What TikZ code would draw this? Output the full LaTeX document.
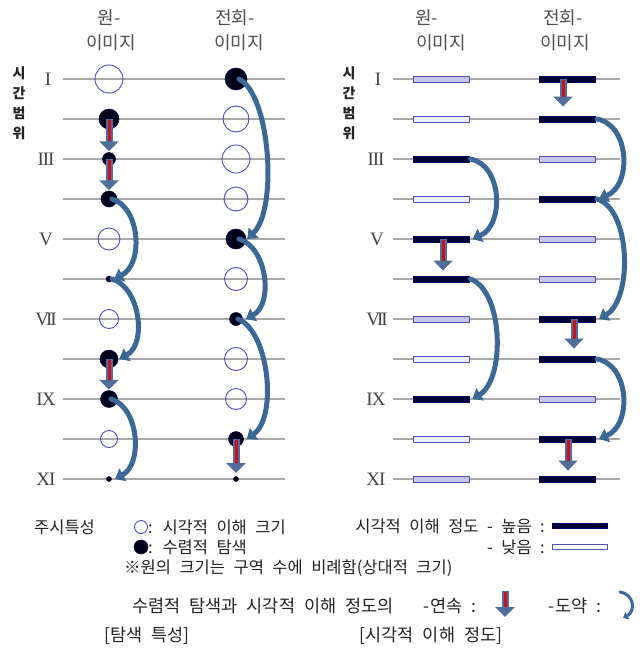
\documentclass[tikz,border=0pt]{standalone}
\usepackage{fontspec}
\setmainfont{Noto Sans CJK KR}[WordSpace=2.3]
\newfontfamily\romfont{Liberation Serif}
\usetikzlibrary{arrows.meta,calc}
\definecolor{gridc}{HTML}{A9A9A9}
\definecolor{ocirc}{HTML}{4B4BC4}
\definecolor{fcirc}{HTML}{00001A}
\definecolor{jumpc}{HTML}{3C6896}
\definecolor{arrb}{HTML}{4F6E99}
\definecolor{arrr}{HTML}{CC1020}
\definecolor{barD}{HTML}{000033}
\definecolor{barB}{HTML}{5050B8}
\definecolor{barL}{HTML}{C6C6EA}
\definecolor{barW}{HTML}{EDEDFA}
\definecolor{txtc}{HTML}{222222}
\definecolor{hdrc}{HTML}{505050}
\newcommand\contar[2]{%
  \draw[cbg] #1 -- #2;
  \draw[cfg] #1 -- #2;}
\newcommand\jumpar[6]{%
  \draw[jump] #1 .. controls ($#1+(#2,#3)$) and ($#4+(#5,#6)$) .. #4;}
\begin{document}
\begin{tikzpicture}[x=1pt,y=-1pt,
  gridline/.style={draw=gridc,line width=1.3pt},
  oc/.style={circle,draw=ocirc,line width=0.9pt,inner sep=0pt},
  fc/.style={circle,fill=fcirc,draw=fcirc!80!blue,line width=0.5pt,inner sep=0pt},
  barbase/.style={rectangle,minimum width=56pt,minimum height=6pt,inner sep=0pt,line width=0.9pt},
  dbar/.style={barbase,fill=barD,draw=barD!70!blue},
  lbar/.style={barbase,fill=barL,draw=barB},
  wbar/.style={barbase,fill=barW,draw=barB},
  cbg/.style={draw=arrb,line width=7pt,-{Triangle[width=19pt,length=10pt]}},
  cfg/.style={draw=arrr,line width=3pt,shorten >=10pt,shorten <=1pt},
  jump/.style={draw=jumpc,line width=5pt,line cap=round,-{Triangle[width=14pt,length=9pt]}},
  rom/.style={font=\romfont\fontsize{19}{20}\selectfont,text=txtc!85,inner sep=0pt},
  hdr/.style={font=\fontsize{18}{20}\selectfont,text=hdrc,inner sep=0pt},
  vlab/.style={font=\bfseries\fontsize{14}{20}\selectfont,text=txtc,align=center,inner sep=0pt},
  lg/.style={font=\fontsize{16.5}{18}\selectfont,text=txtc,inner sep=0pt},
  lgb/.style={font=\fontsize{17.5}{19}\selectfont,text=txtc,inner sep=0pt}]
\useasboundingbox (0,0) rectangle (643,648);

% ---------------- grid lines ----------------
\foreach \yy in {79,119,...,479} {
  \draw[gridline] (63,\yy) -- (285,\yy);
  \draw[gridline] (393,\yy) -- (620,\yy);
}

% ---------------- headers ----------------
\node[hdr] (hLa1) at (109,18) {원-};
\node[hdr] (hLa2) at (111,43) {이미지};
\node[hdr] (hLb1) at (235,18) {전회-};
\node[hdr] (hLb2) at (239,43) {이미지};
\node[hdr,anchor=west] (hRa1) at (415,18) {원-};
\node[hdr,anchor=west] (hRa2) at (416,43) {이미지};
\node[hdr,anchor=west] (hRb1) at (543,18) {전회-};
\node[hdr,anchor=west] (hRb2) at (540,43) {이미지};

\node[vlab] (vL) at (19,103) {시\\간\\범\\위};
\node[vlab] (vR) at (349,103) {시\\간\\범\\위};

% ---------------- roman numerals ----------------
\node[rom] (rL1) at (48,79) {I};
\node[rom] (rL3) at (46,159) {I\kern-1pt I\kern-1pt I};
\node[rom] (rL5) at (46,239) {V};
\node[rom] (rL7) at (46,319) {V\kern-3pt I\kern-2pt I};
\node[rom] (rL9) at (46,399) {I\kern-1pt X};
\node[rom] (rL11) at (46,479) {X\kern-1pt I};
\node[rom] (rR1) at (378,79) {I};
\node[rom] (rR3) at (376,159) {I\kern-1pt I\kern-1pt I};
\node[rom] (rR5) at (377,239) {V};
\node[rom] (rR7) at (377,319) {V\kern-3pt I\kern-2pt I};
\node[rom] (rR9) at (376,399) {I\kern-1pt X};
\node[rom] (rR11) at (376,479) {X\kern-1pt I};

% ---------------- left panel circles ----------------
\node[oc,minimum size=28pt] (La1) at (109,79) {};
\node[fc,minimum size=20pt] (La2) at (109,119) {};
\node[fc,minimum size=13pt] (La3) at (109,159) {};
\node[fc,minimum size=16pt] (La4) at (109,199) {};
\node[oc,minimum size=22pt] (La5) at (109,239) {};
\node[fc,minimum size=6pt]  (La6) at (109,279) {};
\node[oc,minimum size=19pt] (La7) at (109,319) {};
\node[fc,minimum size=18pt] (La8) at (109,359) {};
\node[fc,minimum size=17pt] (La9) at (109,399) {};
\node[oc,minimum size=17pt] (La10) at (109,439) {};
\node[fc,minimum size=5pt]  (La11) at (109,479) {};

\node[fc,minimum size=22pt] (Lb1) at (236,79) {};
\node[oc,minimum size=26pt] (Lb2) at (236,119) {};
\node[oc,minimum size=28pt] (Lb3) at (236,159) {};
\node[oc,minimum size=24pt] (Lb4) at (236,199) {};
\node[fc,minimum size=20pt] (Lb5) at (236,239) {};
\node[oc,minimum size=23pt] (Lb6) at (236,279) {};
\node[fc,minimum size=13pt] (Lb7) at (236,319) {};
\node[oc,minimum size=23pt] (Lb8) at (236,359) {};
\node[oc,minimum size=21pt] (Lb9) at (236,399) {};
\node[fc,minimum size=15pt] (Lb10) at (236,439) {};
\node[fc,minimum size=5pt]  (Lb11) at (236,479) {};

% ---------------- right panel bars ----------------
\node[lbar] (Ra1) at (441,79) {};
\node[wbar] (Ra2) at (441,119) {};
\node[dbar] (Ra3) at (441,159) {};
\node[wbar] (Ra4) at (441,199) {};
\node[dbar] (Ra5) at (441,239) {};
\node[dbar] (Ra6) at (441,279) {};
\node[lbar] (Ra7) at (441,319) {};
\node[wbar] (Ra8) at (441,359) {};
\node[dbar] (Ra9) at (441,399) {};
\node[wbar] (Ra10) at (441,439) {};
\node[lbar] (Ra11) at (441,479) {};

\node[dbar] (Rb1) at (567.5,79) {};
\node[dbar] (Rb2) at (567.5,119) {};
\node[lbar] (Rb3) at (567.5,159) {};
\node[dbar] (Rb4) at (567.5,199) {};
\node[lbar] (Rb5) at (567.5,239) {};
\node[lbar] (Rb6) at (567.5,279) {};
\node[dbar] (Rb7) at (567.5,319) {};
\node[dbar] (Rb8) at (567.5,359) {};
\node[lbar] (Rb9) at (567.5,399) {};
\node[dbar] (Rb10) at (567.5,439) {};
\node[dbar] (Rb11) at (567.5,479) {};

% ---------------- continuous (red) arrows ----------------
\contar{(La2.center)}{([yshift=1pt]La3.north)}
\contar{(La3.center)}{([yshift=0.5pt]La4.north)}
\contar{(La8.center)}{([yshift=0.5pt]La9.north)}
\contar{(Lb10.center)}{([yshift=6pt]Lb11.center)}

\contar{([xshift=-4.5pt]Rb1.center)}{([xshift=-4.5pt,yshift=9pt]Rb2.north)}
\contar{([xshift=2pt]Ra5.center)}{([xshift=2pt,yshift=5pt]Ra6.north)}
\contar{([xshift=6.5pt]Rb7.center)}{([xshift=6.5pt,yshift=7pt]Rb8.north)}
\contar{([xshift=0.5pt]Rb10.center)}{([xshift=0.5pt,yshift=5pt]Rb11.north)}

% ---------------- jump (curved) arrows ----------------
\jumpar{([xshift=3pt]La4.center)}{28}{8}{([xshift=5pt]La6.center)}{30}{-15}
\jumpar{([xshift=3pt]La6.center)}{28}{8}{([xshift=1pt]La8.east)}{28}{-15}
\jumpar{([xshift=2pt]La9.center)}{28}{8}{([xshift=6pt]La11.center)}{28}{-15}
\jumpar{([xshift=3pt]Lb1.center)}{31}{15}{([xshift=1pt]Lb5.east)}{31}{-30}
\jumpar{([xshift=3pt]Lb5.center)}{28}{8}{([xshift=3pt]Lb7.east)}{28}{-15}
\jumpar{([xshift=2pt]Lb7.center)}{31}{12}{([xshift=3pt]Lb10.east)}{31}{-22}

\jumpar{([xshift=1pt]Rb2.east)}{33}{6}{([xshift=3pt]Rb4.east)}{33}{-14}
\jumpar{([xshift=1pt]Ra3.east)}{32}{6}{([xshift=3pt]Ra5.east)}{32}{-14}
\jumpar{([xshift=1pt]Rb4.east)}{34}{10}{([xshift=3pt]Rb7.east)}{34}{-20}
\jumpar{([xshift=1pt]Ra6.east)}{33}{12}{([xshift=3pt]Ra9.east)}{33}{-20}
\jumpar{([xshift=1pt]Rb8.east)}{33}{6}{([xshift=3pt]Rb10.east)}{33}{-14}

% ---------------- legend ----------------
\node[lg,anchor=west] (lg0) at (34,527) {주시특성};
\node[oc,minimum size=13pt] (lgO) at (141,527) {};
\node[lg,anchor=west] (lg1) at (148,527) {: 시각적 이해 크기};
\node[fc,minimum size=14pt] (lgF) at (141,547) {};
\node[lg,anchor=west] (lg2) at (148,547) {: 수렴적 탐색};
\node[lg,anchor=west] (lg3) at (124,568) {※원의 크기는 구역 수에 비례함(상대적 크기)};

\node[lg,anchor=east] (lg4) at (545,526) {시각적 이해 정도 - 높음 :};
\node[lg,anchor=east] (lg5) at (545,547) {- 낮음 :};
\node[dbar,minimum width=55pt,minimum height=5pt] (lgH) at (579.5,526) {};
\node[barbase,minimum width=55pt,minimum height=5pt,fill=white,draw=barB] (lgL) at (579.5,547) {};

\node[lgb,anchor=west] (lg6) at (132,606) {수렴적 탐색과 시각적 이해 정도의};
\node[lgb] (lg7) at (450,606) {-연속 :};
\coordinate (lgA1) at (505,591);
\coordinate (lgA2) at (505,617);
\contar{(lgA1)}{(lgA2)}
\node[lgb] (lg8) at (575,606) {-도약 :};
\coordinate (lgC1) at (620,592);
\coordinate (lgC2) at (623,618);
\draw[jump,line width=3pt,-{Triangle[width=8pt,length=5pt]}] (lgC1) .. controls ($(lgC1)+(14,2)$) and ($(lgC2)+(13,-7)$) .. (lgC2);

\node[lgb] (lg9) at (147,636) {[탐색 특성]};
\node[lgb] (lg10) at (431,636) {[시각적 이해 정도]};
\end{tikzpicture}
\end{document}
